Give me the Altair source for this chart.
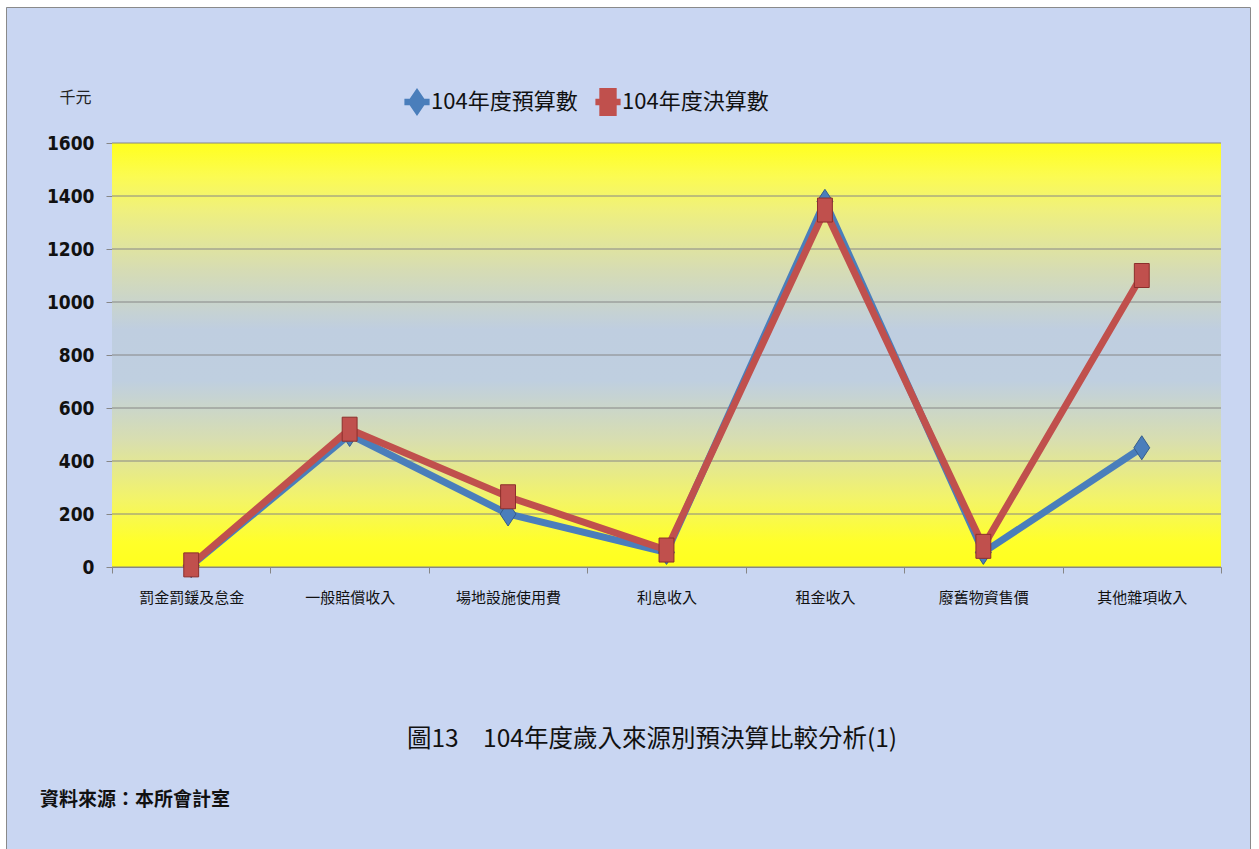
import altair as alt
import pandas as pd

# Revenue categories and amounts (thousand NT$)
categories = ["罰金罰鍰及怠金", "一般賠償收入", "場地設施使用費", "利息收入",
              "租金收入", "廢舊物資售價", "其他雜項收入"]
budget = [5, 500, 200, 55, 1380, 55, 450]
actual = [8, 520, 265, 64, 1347, 78, 1100]
series_names = ["104年度預算數", "104年度決算數"]
y_ticks = [0, 200, 400, 600, 800, 1000, 1200, 1400, 1600]
chart_title = "圖13\u3000104年度歲入來源別預決算比較分析(1)"
source_note = "資料來源：本所會計室"
unit_label = "千元"

BLUE = "#4a7ebb"
RED = "#c0504d"
GRID = "#868686"
CJK = "Noto Sans CJK TC"
NUM = "Liberation Sans Narrow, DejaVu Sans Condensed, Roboto Condensed, Liberation Sans, sans-serif"

W, H = 1109, 424

df_b = pd.DataFrame({"cat": categories, "value": budget, "series": series_names[0]})
df_a = pd.DataFrame({"cat": categories, "value": actual, "series": series_names[1]})
df_all = pd.concat([df_b, df_a], ignore_index=True)
df_ticks = pd.DataFrame({"value": y_ticks})

y_scale = alt.Scale(domain=[0, 1600], nice=False)

x_enc = alt.X("cat:N", sort=categories, title=None,
              scale=alt.Scale(paddingInner=0, paddingOuter=0),
              axis=alt.Axis(labelAngle=0, labelFont=CJK, labelFontSize=15,
                            labelColor="#111", labelPadding=17, tickBand="extent",
                            ticks=True, tickSize=6, tickColor=GRID,
                            domainColor=GRID, grid=False))
y_axis = alt.Axis(values=y_ticks, format="d", title=unit_label, titleAngle=0,
                  titleX=-37, titleY=-46, titleAlign="center",
                  titleBaseline="middle", titleFont=CJK,
                  titleFontSize=16, titleFontWeight="normal",
                  titleColor="#222",
                  labelFont=NUM, labelFontSize=19, labelFontWeight="bold",
                  labelColor="#111", labelPadding=12,
                  tickSize=6, tickColor=GRID, domain=False, grid=False)
y_enc = alt.Y("value:Q", scale=y_scale, axis=y_axis)

# plot-area gradient: yellow at the edges, grey-blue in the middle
plot_fill = alt.LinearGradient(
    gradient="linear", x1=0, x2=0, y1=0, y2=1,
    stops=[
        alt.GradientStop(offset=0.0, color="#ffff1e"),
        alt.GradientStop(offset=0.08, color="#fbfb52"),
        alt.GradientStop(offset=0.16, color="#eff07e"),
        alt.GradientStop(offset=0.30, color="#d6dcb4"),
        alt.GradientStop(offset=0.44, color="#bfcee0"),
        alt.GradientStop(offset=0.56, color="#bfcfe0"),
        alt.GradientStop(offset=0.70, color="#d8deb0"),
        alt.GradientStop(offset=0.84, color="#f3f468"),
        alt.GradientStop(offset=0.94, color="#ffff2a"),
        alt.GradientStop(offset=1.0, color="#ffff1e"),
    ],
)

one = pd.DataFrame({"t": [chart_title], "s": [source_note]})

plot_bg = alt.Chart(one).mark_rect(fill=plot_fill).encode(
    x=alt.value(0), x2=alt.value(W), y=alt.value(0), y2=alt.value(H))

# horizontal gridlines at each tick value
grid = alt.Chart(df_ticks).mark_rule(color=GRID, strokeWidth=1).encode(y=y_enc)

# marker shapes: tall rectangle and tall diamond
RECT_PATH = "M-0.62,-1L0.62,-1L0.62,1L-0.62,1Z"
DIAMOND_PATH = "M0,-1L0.66,0L0,1L-0.66,0Z"
# legend symbols: a short thick line with the marker on top
LEG_DIAMOND = ("M-0.9,-0.24L0.9,-0.24L0.9,0.24L-0.9,0.24Z "
               "M0,-1L0.68,0L0,1L-0.68,0Z")
LEG_RECT = ("M-0.9,-0.24L0.9,-0.24L0.9,0.24L-0.9,0.24Z "
            "M-0.62,-1L0.62,-1L0.62,1L-0.62,1Z")

line_b = alt.Chart(df_b).mark_line(color=BLUE, strokeWidth=7).encode(x=x_enc, y=y_enc)
pts_b = alt.Chart(df_b).mark_point(shape=DIAMOND_PATH, size=576, filled=True,
                                   fill=BLUE, stroke="#355d8c", strokeWidth=1,
                                   opacity=1).encode(x=x_enc, y=y_enc)
line_a = alt.Chart(df_a).mark_line(color=RED, strokeWidth=7).encode(x=x_enc, y=y_enc)
pts_a = alt.Chart(df_a).mark_point(shape=RECT_PATH, size=576, filled=True,
                                   fill=RED, stroke="#8c2f2c", strokeWidth=1,
                                   opacity=1).encode(x=x_enc, y=y_enc)

legend_props = dict(title=None, orient="none", legendX=291, legendY=-55,
                    direction="horizontal", labelFont=CJK, labelFontSize=22,
                    labelColor="#111", labelLimit=0, labelOffset=0,
                    columnPadding=16, symbolSize=784, symbolStrokeWidth=0,
                    padding=0)

# legend-only layer (no rows drawn)
legend_layer = alt.Chart(df_all).transform_filter("false").mark_point(
    filled=True, size=784, opacity=1
).encode(
    color=alt.Color("series:N",
                    scale=alt.Scale(domain=series_names, range=[BLUE, RED]),
                    legend=alt.Legend(**legend_props)),
    shape=alt.Shape("series:N",
                    scale=alt.Scale(domain=series_names, range=[LEG_DIAMOND, LEG_RECT]),
                    legend=alt.Legend(**legend_props)),
)

title_text = alt.Chart(one).mark_text(font=CJK, fontSize=24.5, align="center",
                                      baseline="middle", color="#111").encode(
    text="t:N", x=alt.value(540), y=alt.value(597))
source_text = alt.Chart(one).mark_text(font=CJK, fontSize=19, fontWeight="bold",
                                       align="left", baseline="middle",
                                       color="#111").encode(
    text="s:N", x=alt.value(-72), y=alt.value(657))

# page margins and frame
edge_left = alt.Chart(one).mark_rect(color="white").encode(
    x=alt.value(-112), x2=alt.value(-106), y=alt.value(-143), y2=alt.value(706))
edge_top = alt.Chart(one).mark_rect(color="white").encode(
    x=alt.value(-112), x2=alt.value(1147), y=alt.value(-143), y2=alt.value(-136))
edge_right = alt.Chart(one).mark_rect(color="white").encode(
    x=alt.value(1138), x2=alt.value(1147), y=alt.value(-143), y2=alt.value(706))
frame = alt.Chart(one).mark_rect(fillOpacity=0, stroke="#8a8a8a", strokeWidth=1).encode(
    x=alt.value(-105.5), x2=alt.value(1138.5), y=alt.value(-135.5), y2=alt.value(720))

chart = alt.layer(
    plot_bg, grid, line_b, pts_b, line_a, pts_a, legend_layer, title_text,
    source_text, edge_left, edge_top, edge_right, frame
).properties(
    width=W, height=H,
    padding={"left": 112, "top": 143, "right": 38, "bottom": 282},
    autosize=alt.AutoSizeParams(type="none"),
    background="#c9d6f2",
).configure_view(
    strokeWidth=0
)

chart.save("out.html", embed_options={"renderer": "svg", "actions": False})
